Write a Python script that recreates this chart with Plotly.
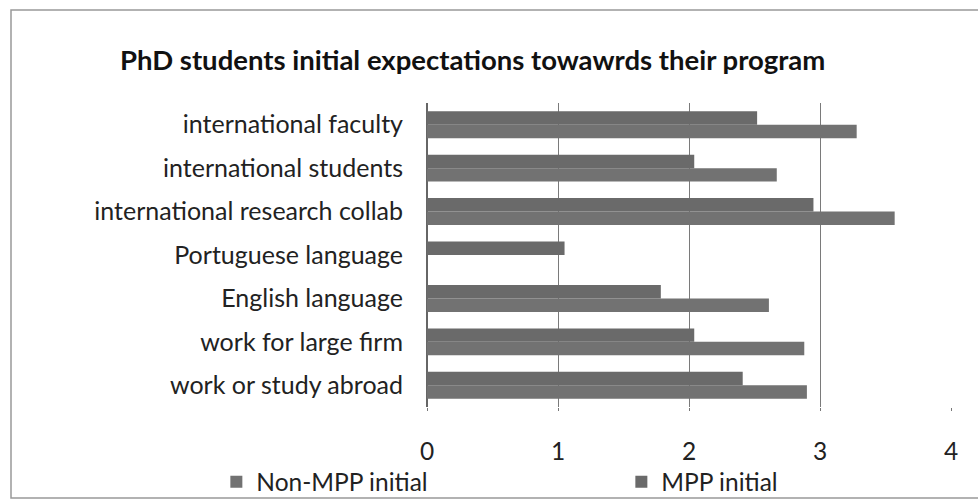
import plotly.graph_objects as go

categories = ["work or study abroad", "work for large firm", "English language",
              "Portuguese language", "international research collab",
              "international students", "international faculty"]
non_mpp = [2.90, 2.88, 2.61, 0, 3.57, 2.67, 3.28]
mpp = [2.41, 2.04, 1.785, 1.05, 2.95, 2.04, 2.52]
x_ticks = [0, 1, 2, 3, 4]

FONT = "Lato"
fig = go.Figure()
fig.add_trace(go.Bar(y=categories, x=non_mpp, orientation="h", name="Non-MPP initial",
                     marker=dict(color="#727272", line=dict(width=0))))
fig.add_trace(go.Bar(y=categories, x=mpp, orientation="h", name="MPP initial",
                     marker=dict(color="#6a6a6a", line=dict(width=0))))

fig.update_layout(
    width=978, height=501,
    margin=dict(l=427, r=27, t=103, b=94, autoexpand=False),
    paper_bgcolor="white", plot_bgcolor="white",
    barmode="group", bargap=0.38, bargroupgap=0,
    font=dict(family=FONT, size=25, color="#222"),
    title=dict(text="<b>PhD students initial expectations towawrds their program</b>",
               x=120/978, xanchor="left", y=1-60/501, yanchor="middle",
               font=dict(family=FONT, size=27.5, color="#111")),
    showlegend=True,
    legend=dict(orientation="h", x=-0.402, xanchor="left", y=-0.246, yanchor="middle",
                traceorder="normal", font=dict(size=24.5, family=FONT),
                entrywidth=360, entrywidthmode="pixels", itemwidth=30,
                bgcolor="rgba(0,0,0,0)"),
    shapes=[dict(type="rect", xref="paper", yref="paper",
                 x0=(11-427)/524, x1=(990-427)/524,
                 y0=(407-498)/304, y1=(407-10)/304,
                 line=dict(color="#999", width=1.5), layer="below")],
)
fig.update_xaxes(range=[0, 4], tickvals=x_ticks, ticktext=[str(v) for v in x_ticks],
                 showgrid=True, gridcolor="#7a7a7a", gridwidth=1.2,
                 zeroline=True, zerolinecolor="#666", zerolinewidth=1.5,
                 ticks="outside", ticklen=3, tickcolor="#777",
                 ticklabelstandoff=20, tickfont=dict(size=24.5, family=FONT))
fig.update_yaxes(showgrid=False, ticks="", ticklabelstandoff=23,
                 tickfont=dict(size=25, family=FONT), showline=False)
fig.write_html("out.html", config={"displayModeBar": False},
               post_script="document.body.style.margin='0';")
